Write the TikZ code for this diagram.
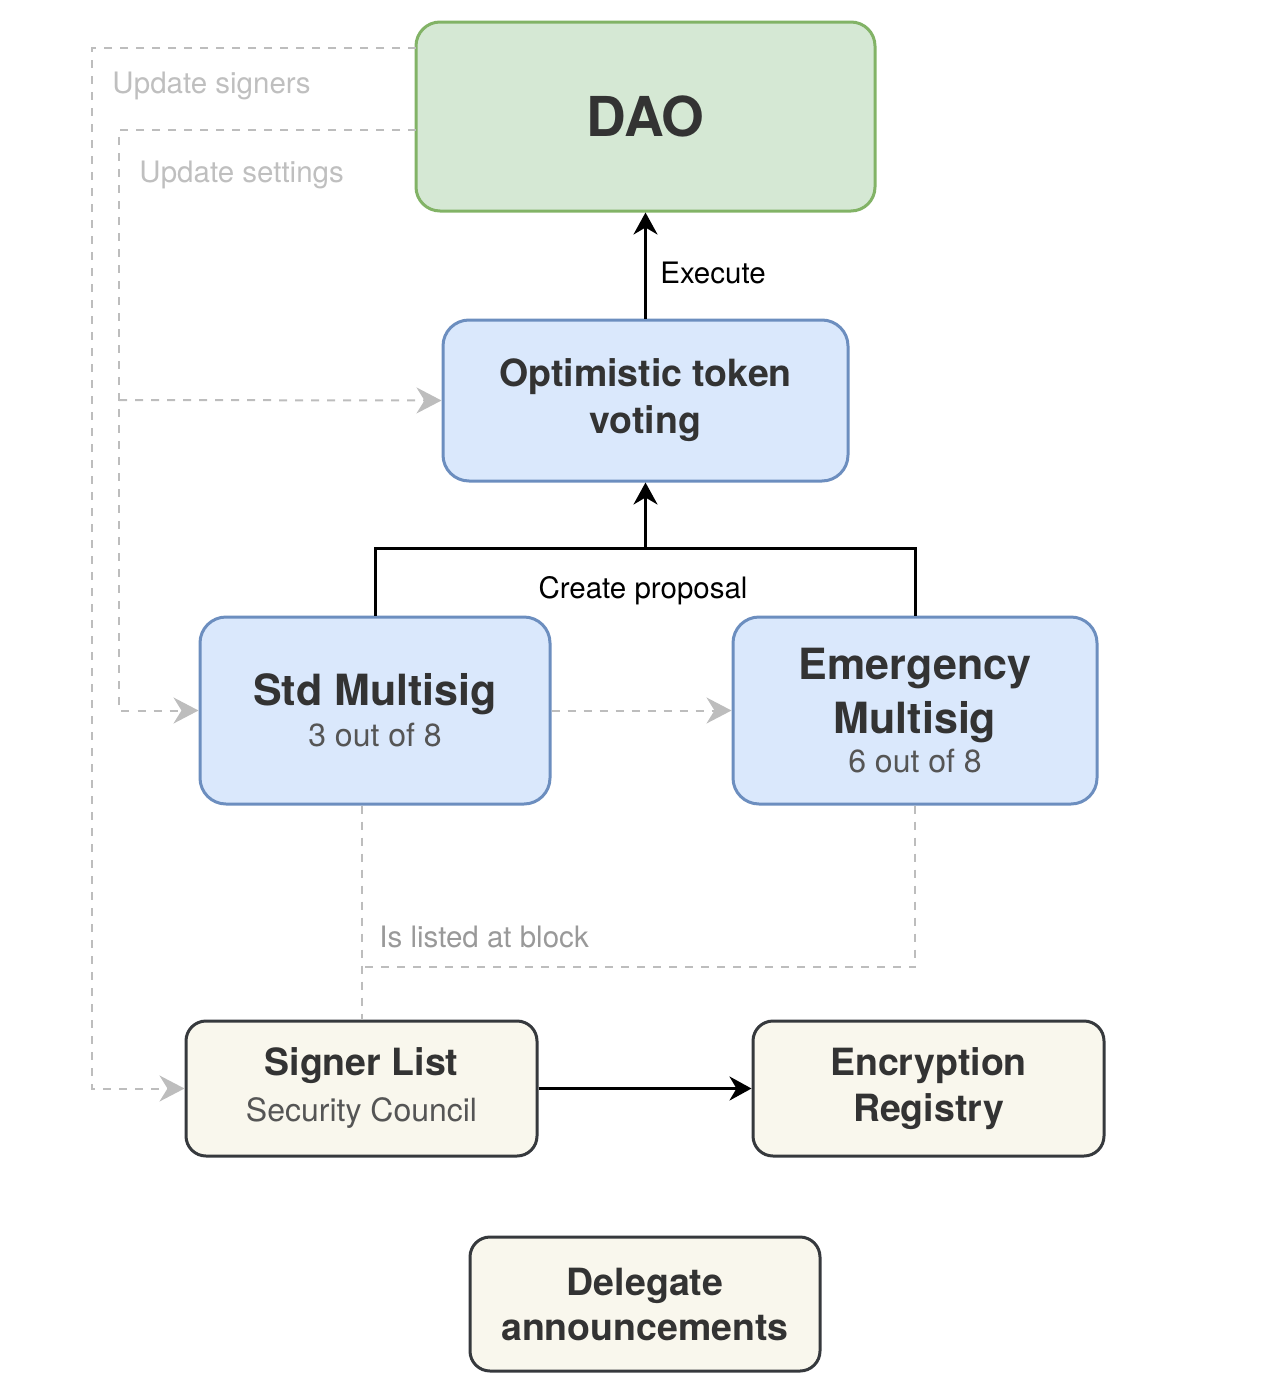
\documentclass[tikz,border=0pt]{standalone}
\usepackage{fontspec}
\setmainfont{TeX Gyre Heros}
\usetikzlibrary{arrows.meta,calc}
\definecolor{gfill}{HTML}{D5E8D4}
\definecolor{gline}{HTML}{82B366}
\definecolor{bfill}{HTML}{DAE8FC}
\definecolor{bline}{HTML}{6C8EBF}
\definecolor{yfill}{HTML}{F9F7ED}
\definecolor{yline}{HTML}{36393D}
\definecolor{txt}{HTML}{333333}
\definecolor{subtxt}{HTML}{555555}
\definecolor{dgray}{HTML}{BDBDBD}
\definecolor{lgray}{HTML}{BFBFBF}
\definecolor{mgray}{HTML}{999999}
\tikzset{
  box/.style={draw, line width=1.5pt, align=center, text=txt, inner sep=0pt},
  greenbox/.style={box, fill=gfill, draw=gline, rounded corners=12pt},
  bluebox/.style={box, fill=bfill, draw=bline, rounded corners=13pt},
  beigebox/.style={box, fill=yfill, draw=yline, rounded corners=10pt},
  blk/.style={line width=1.5pt, draw=black},
  blkarrow/.style={blk, -{Stealth[length=11pt,width=12pt,inset=3.5pt]}},
  gdash/.style={line width=1pt, draw=dgray, dash pattern=on 4pt off 4pt},
  garrow/.style={gdash, -{Stealth[length=12.5pt,width=13pt,inset=4pt,fill=dgray,sep=0pt]}},
  elabel/.style={font=\fontsize{14.75}{18}\selectfont, text=black, inner sep=0pt},
  glabel/.style={font=\fontsize{14.75}{18}\selectfont, text=lgray, inner sep=0pt, anchor=west}
}
\newcommand{\subl}[1]{{\fontsize{16}{19}\selectfont\mdseries\color{subtxt}#1}}
\begin{document}
\begin{tikzpicture}[x=0.5pt,y=-0.5pt]
\useasboundingbox (0,0) rectangle (1264,1392);
% nodes
\node[greenbox, minimum width=229.5pt, minimum height=94.5pt,
      font=\fontsize{27.5}{32}\selectfont\bfseries] (dao) at (645.5,116.5) {DAO};
\node[bluebox, minimum width=202.5pt, minimum height=80.5pt,
      font=\fontsize{18.75}{23.5}\selectfont\bfseries] (otv) at (645.5,400.5) {Optimistic token\\voting};
\node[bluebox, minimum width=175pt, minimum height=93.5pt,
      font=\fontsize{21.5}{27}\selectfont\bfseries] (std) at (375,710.5) {Std Multisig\\[-6.5pt]\subl{3 out of 8}};
\node[bluebox, minimum width=182pt, minimum height=93.5pt,
      font=\fontsize{21.5}{27}\selectfont\bfseries] (emg) at (915,710.5) {Emergency\\Multisig\\[-7.5pt]\subl{6 out of 8}};
\node[beigebox, minimum width=175.5pt, minimum height=67.5pt,
      font=\fontsize{18.75}{23}\selectfont\bfseries] (sig) at (361.5,1088.5) {Signer List\\\subl{Security Council}};
\node[beigebox, minimum width=175.5pt, minimum height=67.5pt,
      font=\fontsize{18.75}{23}\selectfont\bfseries] (enc) at (928.5,1088.5) {Encryption\\Registry};
\node[beigebox, minimum width=175pt, minimum height=67pt,
      font=\fontsize{18.75}{22.5}\selectfont\bfseries] (del) at (645,1304) {Delegate\\announcements};
% coordinates
\coordinate (j) at (645.5,548);
\coordinate (k) at (361.5,967);
\coordinate (usA) at (416,48);
\coordinate (usB) at (92,48);
\coordinate (stA) at (416,130);
\coordinate (stB) at (119,130);
\coordinate (stC) at (119,400);
% black connectors
\draw[blkarrow] (otv.north) -- (dao.south);
\node[elabel, anchor=west] (exl) at (660,273) {Execute};
\draw[blk] (std.north) |- (j);
\draw[blk] (emg.north) |- (j);
\draw[blkarrow] (j) -- (otv.south);
\node[elabel] (cpl) at (643,591) {Create proposal};
\draw[blkarrow] (sig.east) -- (enc.west);
% gray dashed connectors
\draw[garrow] (std.east) -- (emg.west);
\draw[gdash] (std.south -| sig.north) -- (sig.north);
\draw[gdash] (emg.south) |- (k);
\node[glabel, text=mgray] (ilb) at (379,937) {Is listed at block};
\draw[garrow] (usA) -- (usB) |- (sig.west);
\node[glabel] (usl) at (112,86) {Update signers};
\draw[garrow] (stA) -- (stB) |- (std.west);
\draw[garrow] (stC) -- (otv.west);
\node[glabel] (stl) at (139,175) {Update settings};
\end{tikzpicture}
\end{document}
